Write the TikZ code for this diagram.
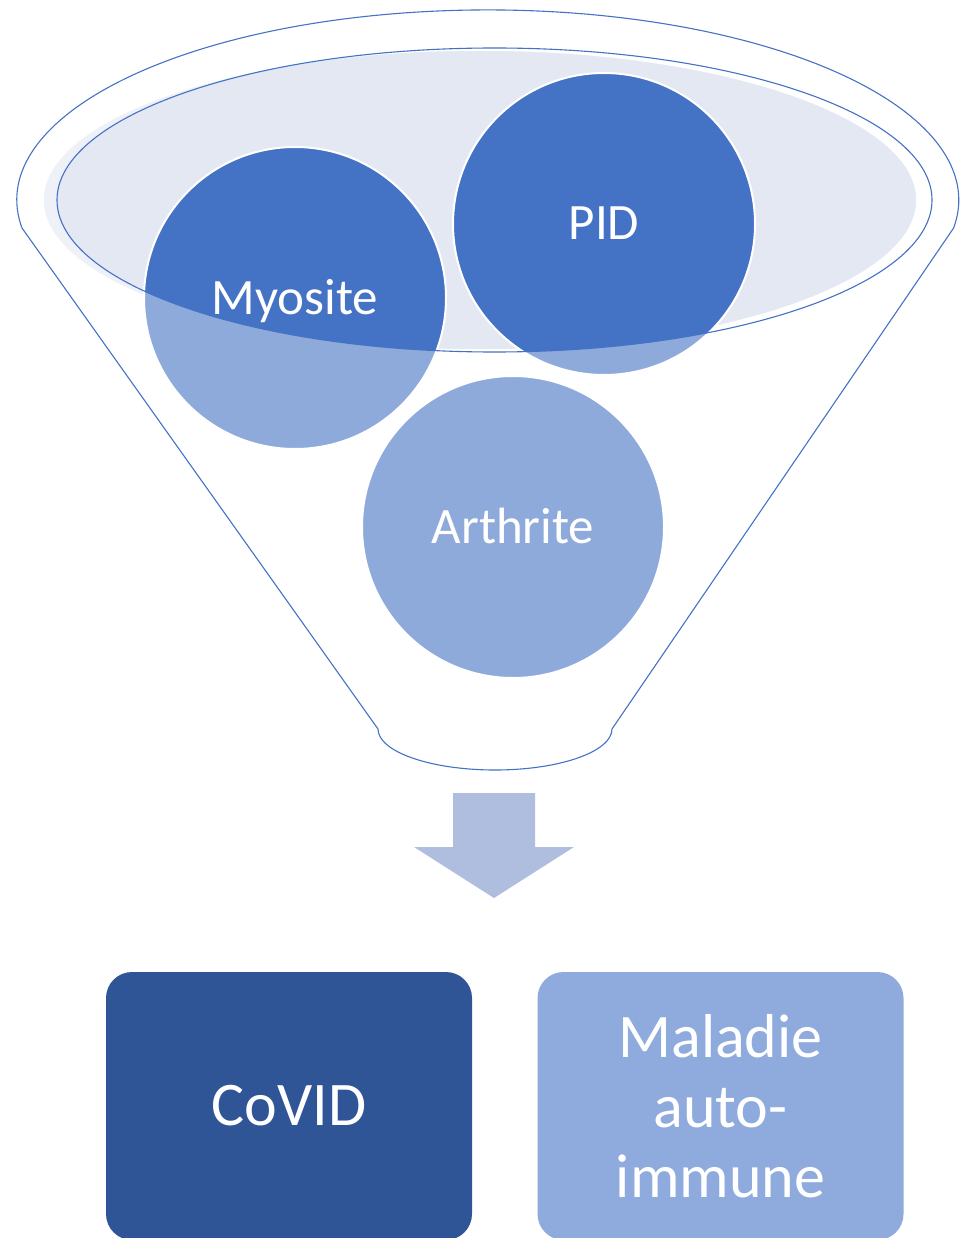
\documentclass[tikz,border=0pt]{standalone}
\usepackage{fontspec}
\setmainfont{Carlito}
\definecolor{acc}{HTML}{4472C4}
\definecolor{accl}{HTML}{8FAADC}
\definecolor{accd}{HTML}{2F5597}
\definecolor{rimfill}{HTML}{E3E8F3}
\definecolor{arrowc}{HTML}{AFBDDF}
\tikzset{
  ball/.style={circle, fill=acc, draw=white, line width=2pt, inner sep=0pt, minimum size=302pt,
    text=white, font=\fontsize{51}{61}\selectfont, text height=32pt, text depth=0pt},
  resbox/.style={rectangle, rounded corners=26pt, minimum width=366pt, minimum height=268pt,
    text=white, font=\fontsize{62}{70}\selectfont, align=center, inner sep=0pt},
  funnelline/.style={draw=acc, line width=1.1pt}
}
\begin{document}
\begin{tikzpicture}[x=1pt,y=-1pt]
\useasboundingbox (0,0) rectangle (959,1238);
% light rim fill
\fill[rimfill, draw=white, line width=1.5pt] (480,200) ellipse [x radius=437, y radius=150];
% circles
\node[ball] (myo) at (295,298) {Myosite};
\node[ball] (pid) at (604,224) {PID};
\node[ball] (arth) at (513,527) {Arthrite};
% translucent funnel body
\fill[white, fill opacity=0.4, even odd rule]
  (22,228) arc[start angle=171.5, end angle=368.5, x radius=471, y radius=190]
  -- (612,729) arc[start angle=0, end angle=180, x radius=117, y radius=41] -- cycle
  (494.5,200) ellipse [x radius=437.5, y radius=152];
% funnel outlines
\draw[funnelline]
  (22,228) arc[start angle=171.5, end angle=368.5, x radius=471, y radius=190]
  -- (612,729) arc[start angle=0, end angle=180, x radius=117, y radius=41] -- cycle;
\draw[funnelline] (494.5,200) ellipse [x radius=437.5, y radius=152];
% down arrow
\fill[arrowc] (453,793) -- (535,793) -- (535,847) -- (574,847) -- (494,898) -- (414,847) -- (453,847) -- cycle;
% result boxes
\node[resbox, fill=accd] (covid) at (289,1106) {CoVID};
\node[resbox, fill=accl] (auto) at (720.5,1106) {Maladie\\auto-\\immune};
\end{tikzpicture}
\end{document}
